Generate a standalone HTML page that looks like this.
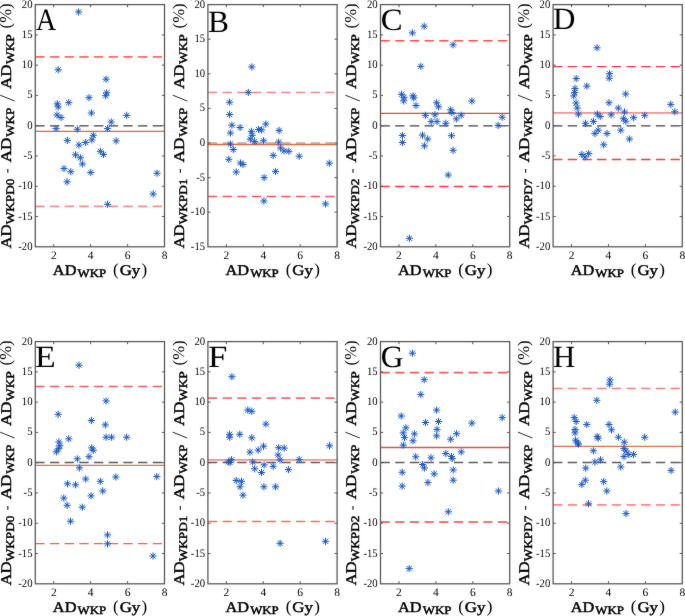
<!DOCTYPE html>
<html><head><meta charset="utf-8"><style>
html,body{margin:0;padding:0;background:#fff;}
body{width:685px;height:616px;overflow:hidden;}
svg{display:block;}
#w{width:685px;height:616px;will-change:transform;}
text{font-family:"Liberation Serif",serif;text-rendering:geometricPrecision;}
.b{font-weight:normal;stroke:#000;stroke-width:0.45px;}
</style></head><body><div id="w">
<svg width="685" height="616" viewBox="0 0 685 616">
<defs>
<g id="s"><path d="M-3.6 0H3.6M0 -3.6V3.6M-2.6 -2.6L2.6 2.6M-2.6 2.6L2.6 -2.6" stroke="#1c5ac4" stroke-width="1" fill="none"/></g>
<filter id="bl" x="0" y="0" width="685" height="616" filterUnits="userSpaceOnUse" color-interpolation-filters="sRGB"><feConvolveMatrix order="3" kernelMatrix="1 2 1 2 40 2 1 2 1" divisor="52" edgeMode="duplicate"/></filter>
</defs>
<g filter="url(#bl)"><rect width="685" height="616" fill="#fff"/>

<line x1="35.3" y1="125.8" x2="164.5" y2="125.8" stroke="#404040" stroke-width="1.3" stroke-dasharray="9.3 5.38"/>
<line x1="35.3" y1="131.4" x2="164.5" y2="131.4" stroke="#DD6A38" stroke-width="1.3"/>
<line x1="35.3" y1="56.8" x2="164.5" y2="56.8" stroke="#ff6a6a" stroke-width="1.8" stroke-dasharray="9.3 5.38"/>
<line x1="35.3" y1="206.4" x2="164.5" y2="206.4" stroke="#ff8a8a" stroke-width="1.6" stroke-dasharray="9.3 5.38"/>
<use href="#s" x="78.6" y="11.9"/>
<use href="#s" x="58.2" y="69.8"/>
<use href="#s" x="106.1" y="79.2"/>
<use href="#s" x="106.7" y="92.8"/>
<use href="#s" x="105.7" y="95.7"/>
<use href="#s" x="89" y="97.7"/>
<use href="#s" x="68.8" y="102.6"/>
<use href="#s" x="57.3" y="103.8"/>
<use href="#s" x="58.2" y="107"/>
<use href="#s" x="57" y="115"/>
<use href="#s" x="61" y="117.5"/>
<use href="#s" x="91.4" y="113"/>
<use href="#s" x="126.7" y="115.4"/>
<use href="#s" x="111.2" y="122"/>
<use href="#s" x="56.1" y="128.6"/>
<use href="#s" x="77.3" y="129.2"/>
<use href="#s" x="107.6" y="128.6"/>
<use href="#s" x="93.3" y="135.3"/>
<use href="#s" x="91.9" y="139.8"/>
<use href="#s" x="67.3" y="140.4"/>
<use href="#s" x="116.2" y="140.9"/>
<use href="#s" x="85.7" y="142.5"/>
<use href="#s" x="79" y="145"/>
<use href="#s" x="100.4" y="151.3"/>
<use href="#s" x="103.5" y="154.4"/>
<use href="#s" x="75.5" y="154.8"/>
<use href="#s" x="80.4" y="157.8"/>
<use href="#s" x="82.4" y="164"/>
<use href="#s" x="64" y="168.5"/>
<use href="#s" x="70.8" y="171.7"/>
<use href="#s" x="90.8" y="172.5"/>
<use href="#s" x="157" y="173.2"/>
<use href="#s" x="67.1" y="181.8"/>
<use href="#s" x="153.2" y="194"/>
<use href="#s" x="107.6" y="204.3"/>
<rect x="35.3" y="4.6" width="129.2" height="242.2" fill="none" stroke="#555555" stroke-width="1.25"/>
<path d="M53.76 246.8V244.2M53.76 4.6V7.2M90.67 246.8V244.2M90.67 4.6V7.2M127.59 246.8V244.2M127.59 4.6V7.2M35.3 216.52H37.9M164.5 216.52H161.9M35.3 186.25H37.9M164.5 186.25H161.9M35.3 155.97H37.9M164.5 155.97H161.9M35.3 125.7H37.9M164.5 125.7H161.9M35.3 95.42H37.9M164.5 95.42H161.9M35.3 65.15H37.9M164.5 65.15H161.9M35.3 34.88H37.9M164.5 34.88H161.9" stroke="#555555" stroke-width="1" fill="none"/>
<text x="53.76" y="258.9" font-size="11.5" text-anchor="middle" fill="#000">2</text>
<text x="90.67" y="258.9" font-size="11.5" text-anchor="middle" fill="#000">4</text>
<text x="127.59" y="258.9" font-size="11.5" text-anchor="middle" fill="#000">6</text>
<text x="164.5" y="258.9" font-size="11.5" text-anchor="middle" fill="#000">8</text>
<text x="18.24" y="249.8" font-size="11.5" fill="#000" textLength="14.26" lengthAdjust="spacingAndGlyphs">-20</text>
<text x="18.24" y="219.52" font-size="11.5" fill="#000" textLength="14.26" lengthAdjust="spacingAndGlyphs">-15</text>
<text x="18.24" y="189.25" font-size="11.5" fill="#000" textLength="14.26" lengthAdjust="spacingAndGlyphs">-10</text>
<text x="23.59" y="158.97" font-size="11.5" fill="#000" textLength="8.91" lengthAdjust="spacingAndGlyphs">-5</text>
<text x="27.15" y="128.7" font-size="11.5" fill="#000" textLength="5.35" lengthAdjust="spacingAndGlyphs">0</text>
<text x="27.15" y="98.42" font-size="11.5" fill="#000" textLength="5.35" lengthAdjust="spacingAndGlyphs">5</text>
<text x="21.8" y="68.15" font-size="11.5" fill="#000" textLength="10.7" lengthAdjust="spacingAndGlyphs">10</text>
<text x="21.8" y="37.88" font-size="11.5" fill="#000" textLength="10.7" lengthAdjust="spacingAndGlyphs">15</text>
<text x="21.8" y="7.6" font-size="11.5" fill="#000" textLength="10.7" lengthAdjust="spacingAndGlyphs">20</text>
<text transform="translate(35.92 29.6) scale(0.903 1)" font-size="31" fill="#000">A</text>
<g fill="#000">
<text class="b" x="52.85" y="274.8" font-size="14.8" textLength="23.6" lengthAdjust="spacingAndGlyphs">AD</text>
<text class="b" x="77.55" y="277.4" font-size="11.5" textLength="28.6" lengthAdjust="spacingAndGlyphs">WKP</text>
<text x="113.05" y="275.2" font-size="17">(</text>
<text class="b" x="119.65" y="274.8" font-size="14.8" textLength="20.6" lengthAdjust="spacingAndGlyphs">Gy</text>
<text x="141.55" y="275.2" font-size="17">)</text>
</g>
<g transform="translate(10.9 0) rotate(-90)" fill="#000"><text class="b" x="-248.6" y="0" font-size="14.8" textLength="24" lengthAdjust="spacingAndGlyphs">AD</text><text class="b" x="-224.2" y="3" font-size="11.5" textLength="45.5" lengthAdjust="spacingAndGlyphs">WKPD0</text><text class="b" x="-162.6" y="0" font-size="14.8" textLength="25" lengthAdjust="spacingAndGlyphs">AD</text><text class="b" x="-136.8" y="3" font-size="11.5" textLength="29.2" lengthAdjust="spacingAndGlyphs">WKP</text><text class="b" x="-89" y="0" font-size="14.8" textLength="24.6" lengthAdjust="spacingAndGlyphs">AD</text><text class="b" x="-63.9" y="3" font-size="11.5" textLength="29.6" lengthAdjust="spacingAndGlyphs">WKP</text><text x="-28.4" y="0.3" font-size="16.5" textLength="25" lengthAdjust="spacingAndGlyphs">(%)</text></g>
<path d="M0.2 95.2L14.6 101" stroke="#111" stroke-width="0.9" fill="none"/>
<path d="M7.8 168.9L7.8 172.7" stroke="#222" stroke-width="1.2" fill="none"/>
<line x1="207.9" y1="143" x2="337.1" y2="143" stroke="#a8aeb2" stroke-width="1.3" stroke-dasharray="9.3 5.38"/>
<line x1="207.9" y1="144.5" x2="337.1" y2="144.5" stroke="#DD6A38" stroke-width="1.3"/>
<line x1="207.9" y1="92.5" x2="337.1" y2="92.5" stroke="#ff8080" stroke-width="1.4" stroke-dasharray="9.3 5.38"/>
<line x1="207.9" y1="196.6" x2="337.1" y2="196.6" stroke="#ff5555" stroke-width="1.5" stroke-dasharray="9.3 5.38"/>
<use href="#s" x="251.8" y="66.9"/>
<use href="#s" x="248.3" y="92.4"/>
<use href="#s" x="229.6" y="102.2"/>
<use href="#s" x="229.6" y="114.5"/>
<use href="#s" x="231.9" y="125.2"/>
<use href="#s" x="240.1" y="127.5"/>
<use href="#s" x="230.4" y="133"/>
<use href="#s" x="251.4" y="131.4"/>
<use href="#s" x="258.6" y="129.5"/>
<use href="#s" x="261.6" y="129.9"/>
<use href="#s" x="265.8" y="124"/>
<use href="#s" x="279.1" y="130.5"/>
<use href="#s" x="252.2" y="135.3"/>
<use href="#s" x="250.3" y="139.2"/>
<use href="#s" x="254.7" y="141.6"/>
<use href="#s" x="263.5" y="140.8"/>
<use href="#s" x="278.7" y="142.1"/>
<use href="#s" x="230.4" y="144.1"/>
<use href="#s" x="233.3" y="149.5"/>
<use href="#s" x="280.6" y="148"/>
<use href="#s" x="284" y="150.9"/>
<use href="#s" x="288.8" y="151.3"/>
<use href="#s" x="273.2" y="155.4"/>
<use href="#s" x="299.2" y="156.2"/>
<use href="#s" x="228.8" y="159.3"/>
<use href="#s" x="240.5" y="163"/>
<use href="#s" x="243" y="164.5"/>
<use href="#s" x="329.3" y="163.2"/>
<use href="#s" x="236.2" y="172"/>
<use href="#s" x="275.6" y="171.4"/>
<use href="#s" x="264.1" y="177.6"/>
<use href="#s" x="263.9" y="201"/>
<use href="#s" x="325.5" y="203.9"/>
<rect x="207.9" y="4.6" width="129.2" height="242.2" fill="none" stroke="#555555" stroke-width="1.25"/>
<path d="M226.36 246.8V244.2M226.36 4.6V7.2M263.27 246.8V244.2M263.27 4.6V7.2M300.19 246.8V244.2M300.19 4.6V7.2M207.9 212.2H210.5M337.1 212.2H334.5M207.9 177.6H210.5M337.1 177.6H334.5M207.9 143H210.5M337.1 143H334.5M207.9 108.4H210.5M337.1 108.4H334.5M207.9 73.8H210.5M337.1 73.8H334.5M207.9 39.2H210.5M337.1 39.2H334.5" stroke="#555555" stroke-width="1" fill="none"/>
<text x="226.36" y="258.9" font-size="11.5" text-anchor="middle" fill="#000">2</text>
<text x="263.27" y="258.9" font-size="11.5" text-anchor="middle" fill="#000">4</text>
<text x="300.19" y="258.9" font-size="11.5" text-anchor="middle" fill="#000">6</text>
<text x="337.1" y="258.9" font-size="11.5" text-anchor="middle" fill="#000">8</text>
<text x="190.84" y="249.8" font-size="11.5" fill="#000" textLength="14.26" lengthAdjust="spacingAndGlyphs">-15</text>
<text x="190.84" y="215.2" font-size="11.5" fill="#000" textLength="14.26" lengthAdjust="spacingAndGlyphs">-10</text>
<text x="196.19" y="180.6" font-size="11.5" fill="#000" textLength="8.91" lengthAdjust="spacingAndGlyphs">-5</text>
<text x="199.75" y="146" font-size="11.5" fill="#000" textLength="5.35" lengthAdjust="spacingAndGlyphs">0</text>
<text x="199.75" y="111.4" font-size="11.5" fill="#000" textLength="5.35" lengthAdjust="spacingAndGlyphs">5</text>
<text x="194.41" y="76.8" font-size="11.5" fill="#000" textLength="10.7" lengthAdjust="spacingAndGlyphs">10</text>
<text x="194.41" y="42.2" font-size="11.5" fill="#000" textLength="10.7" lengthAdjust="spacingAndGlyphs">15</text>
<text x="194.41" y="7.6" font-size="11.5" fill="#000" textLength="10.7" lengthAdjust="spacingAndGlyphs">20</text>
<text transform="translate(208.09 32.3) scale(1.015 1)" font-size="31" fill="#000">B</text>
<g fill="#000">
<text class="b" x="225.45" y="274.8" font-size="14.8" textLength="23.6" lengthAdjust="spacingAndGlyphs">AD</text>
<text class="b" x="250.15" y="277.4" font-size="11.5" textLength="28.6" lengthAdjust="spacingAndGlyphs">WKP</text>
<text x="285.65" y="275.2" font-size="17">(</text>
<text class="b" x="292.25" y="274.8" font-size="14.8" textLength="20.6" lengthAdjust="spacingAndGlyphs">Gy</text>
<text x="314.15" y="275.2" font-size="17">)</text>
</g>
<g transform="translate(183.5 0) rotate(-90)" fill="#000"><text class="b" x="-248.6" y="0" font-size="14.8" textLength="24" lengthAdjust="spacingAndGlyphs">AD</text><text class="b" x="-224.2" y="3" font-size="11.5" textLength="45.5" lengthAdjust="spacingAndGlyphs">WKPD1</text><text class="b" x="-162.6" y="0" font-size="14.8" textLength="25" lengthAdjust="spacingAndGlyphs">AD</text><text class="b" x="-136.8" y="3" font-size="11.5" textLength="29.2" lengthAdjust="spacingAndGlyphs">WKP</text><text class="b" x="-89" y="0" font-size="14.8" textLength="24.6" lengthAdjust="spacingAndGlyphs">AD</text><text class="b" x="-63.9" y="3" font-size="11.5" textLength="29.6" lengthAdjust="spacingAndGlyphs">WKP</text><text x="-28.4" y="0.3" font-size="16.5" textLength="25" lengthAdjust="spacingAndGlyphs">(%)</text></g>
<path d="M172.8 95.2L187.2 101" stroke="#111" stroke-width="0.9" fill="none"/>
<path d="M180.4 168.9L180.4 172.7" stroke="#222" stroke-width="1.2" fill="none"/>
<line x1="380.5" y1="125.8" x2="509.7" y2="125.8" stroke="#404040" stroke-width="1.3" stroke-dasharray="9.3 5.38"/>
<line x1="380.5" y1="113.4" x2="509.7" y2="113.4" stroke="#C85050" stroke-width="1.3"/>
<line x1="380.5" y1="40.7" x2="509.7" y2="40.7" stroke="#ff5050" stroke-width="1.6" stroke-dasharray="9.3 5.38"/>
<line x1="380.5" y1="186.5" x2="509.7" y2="186.5" stroke="#ff3838" stroke-width="1.3" stroke-dasharray="9.3 5.38"/>
<use href="#s" x="424.2" y="26.2"/>
<use href="#s" x="412.4" y="32.9"/>
<use href="#s" x="453.1" y="44.8"/>
<use href="#s" x="420.8" y="66.3"/>
<use href="#s" x="401.6" y="94.3"/>
<use href="#s" x="404" y="97.3"/>
<use href="#s" x="403.7" y="100.9"/>
<use href="#s" x="413" y="95.9"/>
<use href="#s" x="413.8" y="97.9"/>
<use href="#s" x="416" y="105.5"/>
<use href="#s" x="436.6" y="102.8"/>
<use href="#s" x="438.5" y="106.8"/>
<use href="#s" x="471.9" y="101"/>
<use href="#s" x="450.7" y="109.8"/>
<use href="#s" x="451.9" y="112.5"/>
<use href="#s" x="425.4" y="115.3"/>
<use href="#s" x="435" y="114.8"/>
<use href="#s" x="461.2" y="115.2"/>
<use href="#s" x="456.3" y="118.9"/>
<use href="#s" x="502.2" y="117.2"/>
<use href="#s" x="431.2" y="121.6"/>
<use href="#s" x="437" y="121.6"/>
<use href="#s" x="445.8" y="123.3"/>
<use href="#s" x="498.1" y="125.4"/>
<use href="#s" x="402.4" y="135.5"/>
<use href="#s" x="402.4" y="142.5"/>
<use href="#s" x="422.5" y="135.1"/>
<use href="#s" x="427.7" y="139"/>
<use href="#s" x="424.4" y="145.8"/>
<use href="#s" x="451.5" y="135.7"/>
<use href="#s" x="453.1" y="150.3"/>
<use href="#s" x="448.2" y="175"/>
<use href="#s" x="409.4" y="238.3"/>
<rect x="380.5" y="4.6" width="129.2" height="242.2" fill="none" stroke="#555555" stroke-width="1.25"/>
<path d="M398.96 246.8V244.2M398.96 4.6V7.2M435.87 246.8V244.2M435.87 4.6V7.2M472.79 246.8V244.2M472.79 4.6V7.2M380.5 216.52H383.1M509.7 216.52H507.1M380.5 186.25H383.1M509.7 186.25H507.1M380.5 155.97H383.1M509.7 155.97H507.1M380.5 125.7H383.1M509.7 125.7H507.1M380.5 95.42H383.1M509.7 95.42H507.1M380.5 65.15H383.1M509.7 65.15H507.1M380.5 34.88H383.1M509.7 34.88H507.1" stroke="#555555" stroke-width="1" fill="none"/>
<text x="398.96" y="258.9" font-size="11.5" text-anchor="middle" fill="#000">2</text>
<text x="435.87" y="258.9" font-size="11.5" text-anchor="middle" fill="#000">4</text>
<text x="472.79" y="258.9" font-size="11.5" text-anchor="middle" fill="#000">6</text>
<text x="509.7" y="258.9" font-size="11.5" text-anchor="middle" fill="#000">8</text>
<text x="363.44" y="249.8" font-size="11.5" fill="#000" textLength="14.26" lengthAdjust="spacingAndGlyphs">-20</text>
<text x="363.44" y="219.52" font-size="11.5" fill="#000" textLength="14.26" lengthAdjust="spacingAndGlyphs">-15</text>
<text x="363.44" y="189.25" font-size="11.5" fill="#000" textLength="14.26" lengthAdjust="spacingAndGlyphs">-10</text>
<text x="368.79" y="158.97" font-size="11.5" fill="#000" textLength="8.91" lengthAdjust="spacingAndGlyphs">-5</text>
<text x="372.35" y="128.7" font-size="11.5" fill="#000" textLength="5.35" lengthAdjust="spacingAndGlyphs">0</text>
<text x="372.35" y="98.42" font-size="11.5" fill="#000" textLength="5.35" lengthAdjust="spacingAndGlyphs">5</text>
<text x="367" y="68.15" font-size="11.5" fill="#000" textLength="10.7" lengthAdjust="spacingAndGlyphs">10</text>
<text x="367" y="37.88" font-size="11.5" fill="#000" textLength="10.7" lengthAdjust="spacingAndGlyphs">15</text>
<text x="367" y="7.6" font-size="11.5" fill="#000" textLength="10.7" lengthAdjust="spacingAndGlyphs">20</text>
<text transform="translate(380.65 29.6) scale(1.058 1)" font-size="31" fill="#000">C</text>
<g fill="#000">
<text class="b" x="398.05" y="274.8" font-size="14.8" textLength="23.6" lengthAdjust="spacingAndGlyphs">AD</text>
<text class="b" x="422.75" y="277.4" font-size="11.5" textLength="28.6" lengthAdjust="spacingAndGlyphs">WKP</text>
<text x="458.25" y="275.2" font-size="17">(</text>
<text class="b" x="464.85" y="274.8" font-size="14.8" textLength="20.6" lengthAdjust="spacingAndGlyphs">Gy</text>
<text x="486.75" y="275.2" font-size="17">)</text>
</g>
<g transform="translate(356.1 0) rotate(-90)" fill="#000"><text class="b" x="-248.6" y="0" font-size="14.8" textLength="24" lengthAdjust="spacingAndGlyphs">AD</text><text class="b" x="-224.2" y="3" font-size="11.5" textLength="45.5" lengthAdjust="spacingAndGlyphs">WKPD2</text><text class="b" x="-162.6" y="0" font-size="14.8" textLength="25" lengthAdjust="spacingAndGlyphs">AD</text><text class="b" x="-136.8" y="3" font-size="11.5" textLength="29.2" lengthAdjust="spacingAndGlyphs">WKP</text><text class="b" x="-89" y="0" font-size="14.8" textLength="24.6" lengthAdjust="spacingAndGlyphs">AD</text><text class="b" x="-63.9" y="3" font-size="11.5" textLength="29.6" lengthAdjust="spacingAndGlyphs">WKP</text><text x="-28.4" y="0.3" font-size="16.5" textLength="25" lengthAdjust="spacingAndGlyphs">(%)</text></g>
<path d="M345.4 95.2L359.8 101" stroke="#111" stroke-width="0.9" fill="none"/>
<path d="M353 168.9L353 172.7" stroke="#222" stroke-width="1.2" fill="none"/>
<line x1="553.1" y1="125.8" x2="682.3" y2="125.8" stroke="#404040" stroke-width="1.3" stroke-dasharray="9.3 5.38"/>
<line x1="553.1" y1="112.9" x2="682.3" y2="112.9" stroke="#EE9494" stroke-width="1.8"/>
<line x1="553.1" y1="66.6" x2="682.3" y2="66.6" stroke="#ff3030" stroke-width="1.3" stroke-dasharray="9.3 5.38"/>
<line x1="553.1" y1="159.5" x2="682.3" y2="159.5" stroke="#ff3a3a" stroke-width="1.3" stroke-dasharray="9.3 5.38"/>
<use href="#s" x="597" y="47.8"/>
<use href="#s" x="609.6" y="73.7"/>
<use href="#s" x="609.2" y="78.2"/>
<use href="#s" x="576.2" y="78.6"/>
<use href="#s" x="586.8" y="86.1"/>
<use href="#s" x="575" y="88.4"/>
<use href="#s" x="574.6" y="92.4"/>
<use href="#s" x="573.8" y="95.9"/>
<use href="#s" x="625.7" y="94"/>
<use href="#s" x="609" y="102.8"/>
<use href="#s" x="576" y="103"/>
<use href="#s" x="577.2" y="108"/>
<use href="#s" x="618.3" y="108.1"/>
<use href="#s" x="670.8" y="104.4"/>
<use href="#s" x="578.4" y="114.2"/>
<use href="#s" x="597.3" y="114"/>
<use href="#s" x="600.2" y="116.5"/>
<use href="#s" x="611.2" y="114.8"/>
<use href="#s" x="624.5" y="112"/>
<use href="#s" x="674.8" y="111.8"/>
<use href="#s" x="633.6" y="117.7"/>
<use href="#s" x="644.7" y="115.3"/>
<use href="#s" x="623.4" y="118.7"/>
<use href="#s" x="625.8" y="121.2"/>
<use href="#s" x="593.4" y="121.4"/>
<use href="#s" x="585.5" y="123.3"/>
<use href="#s" x="598.2" y="130.2"/>
<use href="#s" x="594.9" y="133.5"/>
<use href="#s" x="607" y="133.5"/>
<use href="#s" x="620.8" y="130.2"/>
<use href="#s" x="629.4" y="139"/>
<use href="#s" x="603.7" y="144.8"/>
<use href="#s" x="581.8" y="154.5"/>
<use href="#s" x="585.1" y="156.9"/>
<use href="#s" x="588.7" y="153.6"/>
<rect x="553.1" y="4.6" width="129.2" height="242.2" fill="none" stroke="#555555" stroke-width="1.25"/>
<path d="M571.56 246.8V244.2M571.56 4.6V7.2M608.47 246.8V244.2M608.47 4.6V7.2M645.39 246.8V244.2M645.39 4.6V7.2M553.1 216.52H555.7M682.3 216.52H679.7M553.1 186.25H555.7M682.3 186.25H679.7M553.1 155.97H555.7M682.3 155.97H679.7M553.1 125.7H555.7M682.3 125.7H679.7M553.1 95.42H555.7M682.3 95.42H679.7M553.1 65.15H555.7M682.3 65.15H679.7M553.1 34.88H555.7M682.3 34.88H679.7" stroke="#555555" stroke-width="1" fill="none"/>
<text x="571.56" y="258.9" font-size="11.5" text-anchor="middle" fill="#000">2</text>
<text x="608.47" y="258.9" font-size="11.5" text-anchor="middle" fill="#000">4</text>
<text x="645.39" y="258.9" font-size="11.5" text-anchor="middle" fill="#000">6</text>
<text x="682.3" y="258.9" font-size="11.5" text-anchor="middle" fill="#000">8</text>
<text x="536.04" y="249.8" font-size="11.5" fill="#000" textLength="14.26" lengthAdjust="spacingAndGlyphs">-20</text>
<text x="536.04" y="219.52" font-size="11.5" fill="#000" textLength="14.26" lengthAdjust="spacingAndGlyphs">-15</text>
<text x="536.04" y="189.25" font-size="11.5" fill="#000" textLength="14.26" lengthAdjust="spacingAndGlyphs">-10</text>
<text x="541.39" y="158.97" font-size="11.5" fill="#000" textLength="8.91" lengthAdjust="spacingAndGlyphs">-5</text>
<text x="544.95" y="128.7" font-size="11.5" fill="#000" textLength="5.35" lengthAdjust="spacingAndGlyphs">0</text>
<text x="544.95" y="98.42" font-size="11.5" fill="#000" textLength="5.35" lengthAdjust="spacingAndGlyphs">5</text>
<text x="539.61" y="68.15" font-size="11.5" fill="#000" textLength="10.7" lengthAdjust="spacingAndGlyphs">10</text>
<text x="539.61" y="37.88" font-size="11.5" fill="#000" textLength="10.7" lengthAdjust="spacingAndGlyphs">15</text>
<text x="539.61" y="7.6" font-size="11.5" fill="#000" textLength="10.7" lengthAdjust="spacingAndGlyphs">20</text>
<text transform="translate(553.1 29.3) scale(0.999 1)" font-size="31" fill="#000">D</text>
<g fill="#000">
<text class="b" x="570.65" y="274.8" font-size="14.8" textLength="23.6" lengthAdjust="spacingAndGlyphs">AD</text>
<text class="b" x="595.35" y="277.4" font-size="11.5" textLength="28.6" lengthAdjust="spacingAndGlyphs">WKP</text>
<text x="630.85" y="275.2" font-size="17">(</text>
<text class="b" x="637.45" y="274.8" font-size="14.8" textLength="20.6" lengthAdjust="spacingAndGlyphs">Gy</text>
<text x="659.35" y="275.2" font-size="17">)</text>
</g>
<g transform="translate(528.7 0) rotate(-90)" fill="#000"><text class="b" x="-248.6" y="0" font-size="14.8" textLength="24" lengthAdjust="spacingAndGlyphs">AD</text><text class="b" x="-224.2" y="3" font-size="11.5" textLength="45.5" lengthAdjust="spacingAndGlyphs">WKPD7</text><text class="b" x="-162.6" y="0" font-size="14.8" textLength="25" lengthAdjust="spacingAndGlyphs">AD</text><text class="b" x="-136.8" y="3" font-size="11.5" textLength="29.2" lengthAdjust="spacingAndGlyphs">WKP</text><text class="b" x="-89" y="0" font-size="14.8" textLength="24.6" lengthAdjust="spacingAndGlyphs">AD</text><text class="b" x="-63.9" y="3" font-size="11.5" textLength="29.6" lengthAdjust="spacingAndGlyphs">WKP</text><text x="-28.4" y="0.3" font-size="16.5" textLength="25" lengthAdjust="spacingAndGlyphs">(%)</text></g>
<path d="M518 95.2L532.4 101" stroke="#111" stroke-width="0.9" fill="none"/>
<path d="M525.6 168.9L525.6 172.7" stroke="#222" stroke-width="1.2" fill="none"/>
<line x1="35.3" y1="462.5" x2="164.5" y2="462.5" stroke="#5c5c5c" stroke-width="1.3" stroke-dasharray="9.3 5.38"/>
<line x1="35.3" y1="465.4" x2="164.5" y2="465.4" stroke="#D87272" stroke-width="1.4"/>
<line x1="35.3" y1="386.6" x2="164.5" y2="386.6" stroke="#ff5a5a" stroke-width="1.5" stroke-dasharray="9.3 5.38"/>
<line x1="35.3" y1="543.6" x2="164.5" y2="543.6" stroke="#ff5555" stroke-width="1.4" stroke-dasharray="9.3 5.38"/>
<use href="#s" x="79" y="365.2"/>
<use href="#s" x="106.1" y="400.9"/>
<use href="#s" x="58.2" y="414.3"/>
<use href="#s" x="91.4" y="420.5"/>
<use href="#s" x="105.3" y="424.9"/>
<use href="#s" x="106.1" y="437.2"/>
<use href="#s" x="111.6" y="437.2"/>
<use href="#s" x="126.7" y="437.2"/>
<use href="#s" x="68.8" y="438.8"/>
<use href="#s" x="58.9" y="442"/>
<use href="#s" x="59.9" y="445.8"/>
<use href="#s" x="58.4" y="448.8"/>
<use href="#s" x="56.4" y="451.8"/>
<use href="#s" x="91.7" y="447.9"/>
<use href="#s" x="93.3" y="450.3"/>
<use href="#s" x="89" y="456.7"/>
<use href="#s" x="77.3" y="458.9"/>
<use href="#s" x="79.4" y="467.9"/>
<use href="#s" x="85.7" y="479"/>
<use href="#s" x="67.5" y="483.8"/>
<use href="#s" x="75.5" y="484.8"/>
<use href="#s" x="100.3" y="481.3"/>
<use href="#s" x="115.8" y="477"/>
<use href="#s" x="156.8" y="476.6"/>
<use href="#s" x="102.8" y="491"/>
<use href="#s" x="91.1" y="495.9"/>
<use href="#s" x="63.8" y="498.1"/>
<use href="#s" x="67.1" y="505.3"/>
<use href="#s" x="82.3" y="507.2"/>
<use href="#s" x="70.5" y="521.2"/>
<use href="#s" x="107.5" y="534.9"/>
<use href="#s" x="107.5" y="543.8"/>
<use href="#s" x="153" y="556"/>
<rect x="35.3" y="341.6" width="129.2" height="242.2" fill="none" stroke="#555555" stroke-width="1.25"/>
<path d="M53.76 583.8V581.2M53.76 341.6V344.2M90.67 583.8V581.2M90.67 341.6V344.2M127.59 583.8V581.2M127.59 341.6V344.2M35.3 553.52H37.9M164.5 553.52H161.9M35.3 523.25H37.9M164.5 523.25H161.9M35.3 492.98H37.9M164.5 492.98H161.9M35.3 462.7H37.9M164.5 462.7H161.9M35.3 432.43H37.9M164.5 432.43H161.9M35.3 402.15H37.9M164.5 402.15H161.9M35.3 371.88H37.9M164.5 371.88H161.9" stroke="#555555" stroke-width="1" fill="none"/>
<text x="53.76" y="595.9" font-size="11.5" text-anchor="middle" fill="#000">2</text>
<text x="90.67" y="595.9" font-size="11.5" text-anchor="middle" fill="#000">4</text>
<text x="127.59" y="595.9" font-size="11.5" text-anchor="middle" fill="#000">6</text>
<text x="164.5" y="595.9" font-size="11.5" text-anchor="middle" fill="#000">8</text>
<text x="18.24" y="586.8" font-size="11.5" fill="#000" textLength="14.26" lengthAdjust="spacingAndGlyphs">-20</text>
<text x="18.24" y="556.52" font-size="11.5" fill="#000" textLength="14.26" lengthAdjust="spacingAndGlyphs">-15</text>
<text x="18.24" y="526.25" font-size="11.5" fill="#000" textLength="14.26" lengthAdjust="spacingAndGlyphs">-10</text>
<text x="23.59" y="495.98" font-size="11.5" fill="#000" textLength="8.91" lengthAdjust="spacingAndGlyphs">-5</text>
<text x="27.15" y="465.7" font-size="11.5" fill="#000" textLength="5.35" lengthAdjust="spacingAndGlyphs">0</text>
<text x="27.15" y="435.43" font-size="11.5" fill="#000" textLength="5.35" lengthAdjust="spacingAndGlyphs">5</text>
<text x="21.8" y="405.15" font-size="11.5" fill="#000" textLength="10.7" lengthAdjust="spacingAndGlyphs">10</text>
<text x="21.8" y="374.88" font-size="11.5" fill="#000" textLength="10.7" lengthAdjust="spacingAndGlyphs">15</text>
<text x="21.8" y="344.6" font-size="11.5" fill="#000" textLength="10.7" lengthAdjust="spacingAndGlyphs">20</text>
<text transform="translate(35.02 366.6) scale(1.093 1)" font-size="31" fill="#000">E</text>
<g fill="#000">
<text class="b" x="52.85" y="611.8" font-size="14.8" textLength="23.6" lengthAdjust="spacingAndGlyphs">AD</text>
<text class="b" x="77.55" y="614.4" font-size="11.5" textLength="28.6" lengthAdjust="spacingAndGlyphs">WKP</text>
<text x="113.05" y="612.2" font-size="17">(</text>
<text class="b" x="119.65" y="611.8" font-size="14.8" textLength="20.6" lengthAdjust="spacingAndGlyphs">Gy</text>
<text x="141.55" y="612.2" font-size="17">)</text>
</g>
<g transform="translate(10.9 0) rotate(-90)" fill="#000"><text class="b" x="-585.6" y="0" font-size="14.8" textLength="24" lengthAdjust="spacingAndGlyphs">AD</text><text class="b" x="-561.2" y="3" font-size="11.5" textLength="45.5" lengthAdjust="spacingAndGlyphs">WKPD0</text><text class="b" x="-499.6" y="0" font-size="14.8" textLength="25" lengthAdjust="spacingAndGlyphs">AD</text><text class="b" x="-473.8" y="3" font-size="11.5" textLength="29.2" lengthAdjust="spacingAndGlyphs">WKP</text><text class="b" x="-426" y="0" font-size="14.8" textLength="24.6" lengthAdjust="spacingAndGlyphs">AD</text><text class="b" x="-400.9" y="3" font-size="11.5" textLength="29.6" lengthAdjust="spacingAndGlyphs">WKP</text><text x="-365.4" y="0.3" font-size="16.5" textLength="25" lengthAdjust="spacingAndGlyphs">(%)</text></g>
<path d="M0.2 432.2L14.6 438" stroke="#111" stroke-width="0.9" fill="none"/>
<path d="M7.8 505.9L7.8 509.7" stroke="#222" stroke-width="1.2" fill="none"/>
<line x1="207.9" y1="462.5" x2="337.1" y2="462.5" stroke="#5c5c5c" stroke-width="1.3" stroke-dasharray="9.3 5.38"/>
<line x1="207.9" y1="459.9" x2="337.1" y2="459.9" stroke="#EE9494" stroke-width="1.8"/>
<line x1="207.9" y1="398.1" x2="337.1" y2="398.1" stroke="#ff6a6a" stroke-width="1.7" stroke-dasharray="9.3 5.38"/>
<line x1="207.9" y1="521.4" x2="337.1" y2="521.4" stroke="#ff6a6a" stroke-width="1.5" stroke-dasharray="9.3 5.38"/>
<use href="#s" x="231.9" y="376.7"/>
<use href="#s" x="247.8" y="410.1"/>
<use href="#s" x="251.8" y="411.3"/>
<use href="#s" x="265.9" y="424.1"/>
<use href="#s" x="229.6" y="434.3"/>
<use href="#s" x="229.6" y="437.2"/>
<use href="#s" x="239.8" y="434.3"/>
<use href="#s" x="251.8" y="437.8"/>
<use href="#s" x="263.5" y="446.2"/>
<use href="#s" x="258.2" y="450.1"/>
<use href="#s" x="249.9" y="452.1"/>
<use href="#s" x="278.7" y="447.7"/>
<use href="#s" x="284.2" y="448.1"/>
<use href="#s" x="329.5" y="445.8"/>
<use href="#s" x="278.1" y="455"/>
<use href="#s" x="231.5" y="459.8"/>
<use href="#s" x="280" y="459.9"/>
<use href="#s" x="299.2" y="459.5"/>
<use href="#s" x="252.7" y="462"/>
<use href="#s" x="230" y="462.4"/>
<use href="#s" x="228.4" y="461.8"/>
<use href="#s" x="264.1" y="464.9"/>
<use href="#s" x="273.2" y="466.3"/>
<use href="#s" x="254.7" y="468.8"/>
<use href="#s" x="261.5" y="472.5"/>
<use href="#s" x="288.4" y="469.6"/>
<use href="#s" x="236.2" y="480.5"/>
<use href="#s" x="241.5" y="481.3"/>
<use href="#s" x="240.1" y="486.8"/>
<use href="#s" x="263.9" y="486.8"/>
<use href="#s" x="275.6" y="486.8"/>
<use href="#s" x="243" y="495.1"/>
<use href="#s" x="280.1" y="543.3"/>
<use href="#s" x="325.5" y="541.3"/>
<rect x="207.9" y="341.6" width="129.2" height="242.2" fill="none" stroke="#555555" stroke-width="1.25"/>
<path d="M226.36 583.8V581.2M226.36 341.6V344.2M263.27 583.8V581.2M263.27 341.6V344.2M300.19 583.8V581.2M300.19 341.6V344.2M207.9 553.52H210.5M337.1 553.52H334.5M207.9 523.25H210.5M337.1 523.25H334.5M207.9 492.98H210.5M337.1 492.98H334.5M207.9 462.7H210.5M337.1 462.7H334.5M207.9 432.43H210.5M337.1 432.43H334.5M207.9 402.15H210.5M337.1 402.15H334.5M207.9 371.88H210.5M337.1 371.88H334.5" stroke="#555555" stroke-width="1" fill="none"/>
<text x="226.36" y="595.9" font-size="11.5" text-anchor="middle" fill="#000">2</text>
<text x="263.27" y="595.9" font-size="11.5" text-anchor="middle" fill="#000">4</text>
<text x="300.19" y="595.9" font-size="11.5" text-anchor="middle" fill="#000">6</text>
<text x="337.1" y="595.9" font-size="11.5" text-anchor="middle" fill="#000">8</text>
<text x="190.84" y="586.8" font-size="11.5" fill="#000" textLength="14.26" lengthAdjust="spacingAndGlyphs">-20</text>
<text x="190.84" y="556.52" font-size="11.5" fill="#000" textLength="14.26" lengthAdjust="spacingAndGlyphs">-15</text>
<text x="190.84" y="526.25" font-size="11.5" fill="#000" textLength="14.26" lengthAdjust="spacingAndGlyphs">-10</text>
<text x="196.19" y="495.98" font-size="11.5" fill="#000" textLength="8.91" lengthAdjust="spacingAndGlyphs">-5</text>
<text x="199.75" y="465.7" font-size="11.5" fill="#000" textLength="5.35" lengthAdjust="spacingAndGlyphs">0</text>
<text x="199.75" y="435.43" font-size="11.5" fill="#000" textLength="5.35" lengthAdjust="spacingAndGlyphs">5</text>
<text x="194.41" y="405.15" font-size="11.5" fill="#000" textLength="10.7" lengthAdjust="spacingAndGlyphs">10</text>
<text x="194.41" y="374.88" font-size="11.5" fill="#000" textLength="10.7" lengthAdjust="spacingAndGlyphs">15</text>
<text x="194.41" y="344.6" font-size="11.5" fill="#000" textLength="10.7" lengthAdjust="spacingAndGlyphs">20</text>
<text transform="translate(207.99 366.6) scale(1.119 1)" font-size="31" fill="#000">F</text>
<g fill="#000">
<text class="b" x="225.45" y="611.8" font-size="14.8" textLength="23.6" lengthAdjust="spacingAndGlyphs">AD</text>
<text class="b" x="250.15" y="614.4" font-size="11.5" textLength="28.6" lengthAdjust="spacingAndGlyphs">WKP</text>
<text x="285.65" y="612.2" font-size="17">(</text>
<text class="b" x="292.25" y="611.8" font-size="14.8" textLength="20.6" lengthAdjust="spacingAndGlyphs">Gy</text>
<text x="314.15" y="612.2" font-size="17">)</text>
</g>
<g transform="translate(183.5 0) rotate(-90)" fill="#000"><text class="b" x="-585.6" y="0" font-size="14.8" textLength="24" lengthAdjust="spacingAndGlyphs">AD</text><text class="b" x="-561.2" y="3" font-size="11.5" textLength="45.5" lengthAdjust="spacingAndGlyphs">WKPD1</text><text class="b" x="-499.6" y="0" font-size="14.8" textLength="25" lengthAdjust="spacingAndGlyphs">AD</text><text class="b" x="-473.8" y="3" font-size="11.5" textLength="29.2" lengthAdjust="spacingAndGlyphs">WKP</text><text class="b" x="-426" y="0" font-size="14.8" textLength="24.6" lengthAdjust="spacingAndGlyphs">AD</text><text class="b" x="-400.9" y="3" font-size="11.5" textLength="29.6" lengthAdjust="spacingAndGlyphs">WKP</text><text x="-365.4" y="0.3" font-size="16.5" textLength="25" lengthAdjust="spacingAndGlyphs">(%)</text></g>
<path d="M172.8 432.2L187.2 438" stroke="#111" stroke-width="0.9" fill="none"/>
<path d="M180.4 505.9L180.4 509.7" stroke="#222" stroke-width="1.2" fill="none"/>
<line x1="380.5" y1="462.5" x2="509.7" y2="462.5" stroke="#5c5c5c" stroke-width="1.3" stroke-dasharray="9.3 5.38"/>
<line x1="380.5" y1="447.5" x2="509.7" y2="447.5" stroke="#DD5050" stroke-width="1.4"/>
<line x1="380.5" y1="372.7" x2="509.7" y2="372.7" stroke="#ff5858" stroke-width="1.8" stroke-dasharray="9.3 5.38"/>
<line x1="380.5" y1="521.9" x2="509.7" y2="521.9" stroke="#ff7070" stroke-width="2.0" stroke-dasharray="9.3 5.38"/>
<use href="#s" x="412.4" y="353.2"/>
<use href="#s" x="424.2" y="379.7"/>
<use href="#s" x="420.8" y="394.6"/>
<use href="#s" x="436.6" y="410.1"/>
<use href="#s" x="401.2" y="416"/>
<use href="#s" x="502.2" y="417.6"/>
<use href="#s" x="425.6" y="422.5"/>
<use href="#s" x="438.5" y="421.5"/>
<use href="#s" x="471.9" y="423.1"/>
<use href="#s" x="405.9" y="427.8"/>
<use href="#s" x="437" y="429.4"/>
<use href="#s" x="403.2" y="432.9"/>
<use href="#s" x="414.4" y="433.9"/>
<use href="#s" x="404.5" y="437.6"/>
<use href="#s" x="436.6" y="435.9"/>
<use href="#s" x="456.6" y="433.7"/>
<use href="#s" x="450.7" y="439.2"/>
<use href="#s" x="413" y="440.8"/>
<use href="#s" x="403.3" y="445.1"/>
<use href="#s" x="461.2" y="451.9"/>
<use href="#s" x="445.8" y="453.5"/>
<use href="#s" x="451.5" y="456.6"/>
<use href="#s" x="415.7" y="456.8"/>
<use href="#s" x="431" y="457.8"/>
<use href="#s" x="452.2" y="458.5"/>
<use href="#s" x="422.6" y="464.5"/>
<use href="#s" x="424.4" y="468.1"/>
<use href="#s" x="402.2" y="472.3"/>
<use href="#s" x="434.2" y="473.9"/>
<use href="#s" x="453.2" y="469.9"/>
<use href="#s" x="453.2" y="480.2"/>
<use href="#s" x="427.9" y="482.6"/>
<use href="#s" x="402.2" y="486.1"/>
<use href="#s" x="498.5" y="491"/>
<use href="#s" x="448.3" y="511.8"/>
<use href="#s" x="409.2" y="568.6"/>
<rect x="380.5" y="341.6" width="129.2" height="242.2" fill="none" stroke="#555555" stroke-width="1.25"/>
<path d="M398.96 583.8V581.2M398.96 341.6V344.2M435.87 583.8V581.2M435.87 341.6V344.2M472.79 583.8V581.2M472.79 341.6V344.2M380.5 553.52H383.1M509.7 553.52H507.1M380.5 523.25H383.1M509.7 523.25H507.1M380.5 492.98H383.1M509.7 492.98H507.1M380.5 462.7H383.1M509.7 462.7H507.1M380.5 432.43H383.1M509.7 432.43H507.1M380.5 402.15H383.1M509.7 402.15H507.1M380.5 371.88H383.1M509.7 371.88H507.1" stroke="#555555" stroke-width="1" fill="none"/>
<text x="398.96" y="595.9" font-size="11.5" text-anchor="middle" fill="#000">2</text>
<text x="435.87" y="595.9" font-size="11.5" text-anchor="middle" fill="#000">4</text>
<text x="472.79" y="595.9" font-size="11.5" text-anchor="middle" fill="#000">6</text>
<text x="509.7" y="595.9" font-size="11.5" text-anchor="middle" fill="#000">8</text>
<text x="363.44" y="586.8" font-size="11.5" fill="#000" textLength="14.26" lengthAdjust="spacingAndGlyphs">-20</text>
<text x="363.44" y="556.52" font-size="11.5" fill="#000" textLength="14.26" lengthAdjust="spacingAndGlyphs">-15</text>
<text x="363.44" y="526.25" font-size="11.5" fill="#000" textLength="14.26" lengthAdjust="spacingAndGlyphs">-10</text>
<text x="368.79" y="495.98" font-size="11.5" fill="#000" textLength="8.91" lengthAdjust="spacingAndGlyphs">-5</text>
<text x="372.35" y="465.7" font-size="11.5" fill="#000" textLength="5.35" lengthAdjust="spacingAndGlyphs">0</text>
<text x="372.35" y="435.43" font-size="11.5" fill="#000" textLength="5.35" lengthAdjust="spacingAndGlyphs">5</text>
<text x="367" y="405.15" font-size="11.5" fill="#000" textLength="10.7" lengthAdjust="spacingAndGlyphs">10</text>
<text x="367" y="374.88" font-size="11.5" fill="#000" textLength="10.7" lengthAdjust="spacingAndGlyphs">15</text>
<text x="367" y="344.6" font-size="11.5" fill="#000" textLength="10.7" lengthAdjust="spacingAndGlyphs">20</text>
<text transform="translate(380.71 366.7) scale(1.014 1)" font-size="31" fill="#000">G</text>
<g fill="#000">
<text class="b" x="398.05" y="611.8" font-size="14.8" textLength="23.6" lengthAdjust="spacingAndGlyphs">AD</text>
<text class="b" x="422.75" y="614.4" font-size="11.5" textLength="28.6" lengthAdjust="spacingAndGlyphs">WKP</text>
<text x="458.25" y="612.2" font-size="17">(</text>
<text class="b" x="464.85" y="611.8" font-size="14.8" textLength="20.6" lengthAdjust="spacingAndGlyphs">Gy</text>
<text x="486.75" y="612.2" font-size="17">)</text>
</g>
<g transform="translate(356.1 0) rotate(-90)" fill="#000"><text class="b" x="-585.6" y="0" font-size="14.8" textLength="24" lengthAdjust="spacingAndGlyphs">AD</text><text class="b" x="-561.2" y="3" font-size="11.5" textLength="45.5" lengthAdjust="spacingAndGlyphs">WKPD2</text><text class="b" x="-499.6" y="0" font-size="14.8" textLength="25" lengthAdjust="spacingAndGlyphs">AD</text><text class="b" x="-473.8" y="3" font-size="11.5" textLength="29.2" lengthAdjust="spacingAndGlyphs">WKP</text><text class="b" x="-426" y="0" font-size="14.8" textLength="24.6" lengthAdjust="spacingAndGlyphs">AD</text><text class="b" x="-400.9" y="3" font-size="11.5" textLength="29.6" lengthAdjust="spacingAndGlyphs">WKP</text><text x="-365.4" y="0.3" font-size="16.5" textLength="25" lengthAdjust="spacingAndGlyphs">(%)</text></g>
<path d="M345.4 432.2L359.8 438" stroke="#111" stroke-width="0.9" fill="none"/>
<path d="M353 505.9L353 509.7" stroke="#222" stroke-width="1.2" fill="none"/>
<line x1="553.1" y1="462.5" x2="682.3" y2="462.5" stroke="#5c5c5c" stroke-width="1.3" stroke-dasharray="9.3 5.38"/>
<line x1="553.1" y1="446.4" x2="682.3" y2="446.4" stroke="#E4703F" stroke-width="1.3"/>
<line x1="553.1" y1="388.5" x2="682.3" y2="388.5" stroke="#ff7878" stroke-width="1.4" stroke-dasharray="9.3 5.38"/>
<line x1="553.1" y1="504.9" x2="682.3" y2="504.9" stroke="#ff8888" stroke-width="1.8" stroke-dasharray="9.3 5.38"/>
<use href="#s" x="610" y="379.9"/>
<use href="#s" x="609.6" y="384.2"/>
<use href="#s" x="596.8" y="400.3"/>
<use href="#s" x="675.2" y="412.1"/>
<use href="#s" x="574.2" y="417.6"/>
<use href="#s" x="576.2" y="421.5"/>
<use href="#s" x="586.8" y="424.5"/>
<use href="#s" x="609" y="424.5"/>
<use href="#s" x="611.5" y="429.8"/>
<use href="#s" x="575" y="429.4"/>
<use href="#s" x="575" y="432.9"/>
<use href="#s" x="597.2" y="436.6"/>
<use href="#s" x="598.2" y="438.2"/>
<use href="#s" x="618.4" y="437.2"/>
<use href="#s" x="644.7" y="437.2"/>
<use href="#s" x="575.6" y="440.2"/>
<use href="#s" x="577.5" y="443.1"/>
<use href="#s" x="578.5" y="444.1"/>
<use href="#s" x="624.3" y="442.2"/>
<use href="#s" x="623.9" y="448.4"/>
<use href="#s" x="626" y="451"/>
<use href="#s" x="593.4" y="450.8"/>
<use href="#s" x="633.6" y="454.4"/>
<use href="#s" x="628.8" y="454.5"/>
<use href="#s" x="624" y="456.6"/>
<use href="#s" x="600.5" y="459.8"/>
<use href="#s" x="594.9" y="462"/>
<use href="#s" x="585.7" y="468.1"/>
<use href="#s" x="620.8" y="466.9"/>
<use href="#s" x="671.1" y="470.4"/>
<use href="#s" x="585.3" y="480.2"/>
<use href="#s" x="581.8" y="484.4"/>
<use href="#s" x="603.7" y="481.6"/>
<use href="#s" x="606.8" y="491"/>
<use href="#s" x="588.5" y="503.8"/>
<use href="#s" x="626" y="513.6"/>
<rect x="553.1" y="341.6" width="129.2" height="242.2" fill="none" stroke="#555555" stroke-width="1.25"/>
<path d="M571.56 583.8V581.2M571.56 341.6V344.2M608.47 583.8V581.2M608.47 341.6V344.2M645.39 583.8V581.2M645.39 341.6V344.2M553.1 553.52H555.7M682.3 553.52H679.7M553.1 523.25H555.7M682.3 523.25H679.7M553.1 492.98H555.7M682.3 492.98H679.7M553.1 462.7H555.7M682.3 462.7H679.7M553.1 432.43H555.7M682.3 432.43H679.7M553.1 402.15H555.7M682.3 402.15H679.7M553.1 371.88H555.7M682.3 371.88H679.7" stroke="#555555" stroke-width="1" fill="none"/>
<text x="571.56" y="595.9" font-size="11.5" text-anchor="middle" fill="#000">2</text>
<text x="608.47" y="595.9" font-size="11.5" text-anchor="middle" fill="#000">4</text>
<text x="645.39" y="595.9" font-size="11.5" text-anchor="middle" fill="#000">6</text>
<text x="682.3" y="595.9" font-size="11.5" text-anchor="middle" fill="#000">8</text>
<text x="536.04" y="586.8" font-size="11.5" fill="#000" textLength="14.26" lengthAdjust="spacingAndGlyphs">-20</text>
<text x="536.04" y="556.52" font-size="11.5" fill="#000" textLength="14.26" lengthAdjust="spacingAndGlyphs">-15</text>
<text x="536.04" y="526.25" font-size="11.5" fill="#000" textLength="14.26" lengthAdjust="spacingAndGlyphs">-10</text>
<text x="541.39" y="495.98" font-size="11.5" fill="#000" textLength="8.91" lengthAdjust="spacingAndGlyphs">-5</text>
<text x="544.95" y="465.7" font-size="11.5" fill="#000" textLength="5.35" lengthAdjust="spacingAndGlyphs">0</text>
<text x="544.95" y="435.43" font-size="11.5" fill="#000" textLength="5.35" lengthAdjust="spacingAndGlyphs">5</text>
<text x="539.61" y="405.15" font-size="11.5" fill="#000" textLength="10.7" lengthAdjust="spacingAndGlyphs">10</text>
<text x="539.61" y="374.88" font-size="11.5" fill="#000" textLength="10.7" lengthAdjust="spacingAndGlyphs">15</text>
<text x="539.61" y="344.6" font-size="11.5" fill="#000" textLength="10.7" lengthAdjust="spacingAndGlyphs">20</text>
<text transform="translate(553.11 366.6) scale(0.993 1)" font-size="31" fill="#000">H</text>
<g fill="#000">
<text class="b" x="570.65" y="611.8" font-size="14.8" textLength="23.6" lengthAdjust="spacingAndGlyphs">AD</text>
<text class="b" x="595.35" y="614.4" font-size="11.5" textLength="28.6" lengthAdjust="spacingAndGlyphs">WKP</text>
<text x="630.85" y="612.2" font-size="17">(</text>
<text class="b" x="637.45" y="611.8" font-size="14.8" textLength="20.6" lengthAdjust="spacingAndGlyphs">Gy</text>
<text x="659.35" y="612.2" font-size="17">)</text>
</g>
<g transform="translate(528.7 0) rotate(-90)" fill="#000"><text class="b" x="-585.6" y="0" font-size="14.8" textLength="24" lengthAdjust="spacingAndGlyphs">AD</text><text class="b" x="-561.2" y="3" font-size="11.5" textLength="45.5" lengthAdjust="spacingAndGlyphs">WKPD7</text><text class="b" x="-499.6" y="0" font-size="14.8" textLength="25" lengthAdjust="spacingAndGlyphs">AD</text><text class="b" x="-473.8" y="3" font-size="11.5" textLength="29.2" lengthAdjust="spacingAndGlyphs">WKP</text><text class="b" x="-426" y="0" font-size="14.8" textLength="24.6" lengthAdjust="spacingAndGlyphs">AD</text><text class="b" x="-400.9" y="3" font-size="11.5" textLength="29.6" lengthAdjust="spacingAndGlyphs">WKP</text><text x="-365.4" y="0.3" font-size="16.5" textLength="25" lengthAdjust="spacingAndGlyphs">(%)</text></g>
<path d="M518 432.2L532.4 438" stroke="#111" stroke-width="0.9" fill="none"/>
<path d="M525.6 505.9L525.6 509.7" stroke="#222" stroke-width="1.2" fill="none"/>
</g></svg></div></body></html>
